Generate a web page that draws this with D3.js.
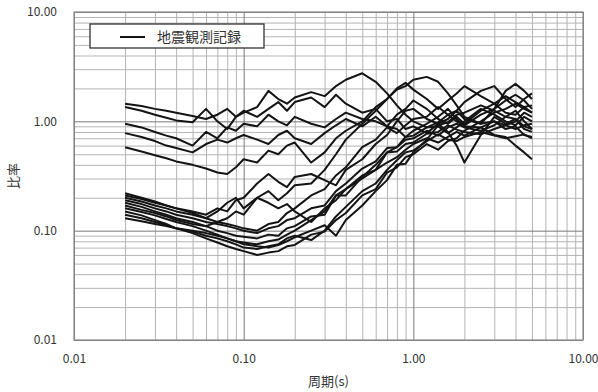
<!DOCTYPE html>
<html>
<head>
<meta charset="utf-8">
<script src="https://cdn.jsdelivr.net/npm/d3@7"></script>
<style>
  body { margin: 0; background: #fff; }
  svg { display: block; }
</style>
</head>
<body>
<div id="chart"></div>
<script>
// periods (s)
const periods = [0.02, 0.025, 0.03, 0.035, 0.04, 0.05, 0.06, 0.07, 0.08, 0.09,
  0.1, 0.12, 0.14, 0.16, 0.18, 0.2, 0.25, 0.3, 0.35, 0.4,
  0.5, 0.6, 0.7, 0.8, 0.9, 1.0, 1.2, 1.4, 1.6, 1.8,
  2.0, 2.5, 3.0, 3.5, 4.0, 4.5, 5.0];

// ratio records (one array per observation)
const rec01 = [1.45, 1.38, 1.3, 1.25, 1.2, 1.12, 1.05, 1.15, 1.3, 1.1, 1.2, 1.35, 1.9, 1.6, 1.45, 1.65, 1.85, 1.7, 2.1, 2.4, 2.75, 2.3, 1.8, 1.4, 1.15, 1.0, 0.88, 0.98, 1.15, 1.25, 1.05, 0.95, 1.0, 0.85, 0.9, 0.75, 0.72];
const rec02 = [1.35, 1.25, 1.15, 1.08, 1.02, 0.98, 1.3, 1.0, 0.85, 1.1, 1.25, 1.1, 1.3, 1.5, 1.25, 1.5, 1.65, 1.35, 1.75, 1.45, 1.2, 1.3, 1.0, 1.05, 0.85, 0.9, 0.78, 0.95, 0.8, 0.6, 0.42, 0.75, 1.1, 0.95, 1.05, 0.85, 0.8];
const rec03 = [0.95, 0.88, 0.8, 0.74, 0.7, 0.6, 0.8, 0.7, 0.88, 0.82, 0.95, 0.9, 1.15, 1.0, 0.92, 1.1, 0.95, 0.88, 1.05, 1.2, 1.05, 1.0, 0.9, 1.15, 1.3, 1.55, 1.3, 1.05, 0.95, 1.1, 0.95, 1.25, 1.45, 1.7, 1.5, 1.35, 1.2];
const rec04 = [0.78, 0.72, 0.66, 0.6, 0.57, 0.52, 0.62, 0.68, 0.64, 0.7, 0.75, 0.68, 0.62, 0.75, 0.82, 0.7, 0.62, 0.78, 0.92, 1.05, 0.9, 1.1, 0.9, 0.85, 0.72, 0.82, 0.95, 1.1, 1.3, 1.05, 0.9, 0.88, 0.75, 0.72, 0.6, 0.52, 0.45];
const rec05 = [0.58, 0.53, 0.49, 0.46, 0.43, 0.4, 0.37, 0.34, 0.33, 0.38, 0.45, 0.42, 0.54, 0.5, 0.6, 0.64, 0.42, 0.52, 0.7, 0.82, 1.0, 1.35, 1.6, 1.95, 2.1, 2.4, 2.55, 2.3, 1.8, 1.4, 1.1, 0.95, 1.3, 1.9, 2.2, 1.9, 1.6];
const rec06 = [0.22, 0.2, 0.185, 0.17, 0.16, 0.15, 0.14, 0.16, 0.15, 0.19, 0.2, 0.27, 0.33, 0.28, 0.25, 0.31, 0.33, 0.29, 0.26, 0.36, 0.45, 0.62, 0.75, 1.0, 1.25, 1.3, 1.05, 0.95, 1.05, 1.25, 1.5, 1.9, 2.1, 1.6, 1.35, 1.6, 1.8];
const rec07 = [0.21, 0.195, 0.18, 0.17, 0.16, 0.145, 0.13, 0.15, 0.18, 0.2, 0.16, 0.2, 0.23, 0.19, 0.22, 0.26, 0.27, 0.36, 0.5, 0.68, 0.95, 1.25, 1.6, 2.0, 2.25, 1.95, 1.6, 1.3, 1.55, 1.8, 2.1, 1.7, 1.45, 1.2, 1.15, 1.35, 1.4];
const rec08 = [0.2, 0.185, 0.17, 0.16, 0.15, 0.14, 0.13, 0.12, 0.115, 0.11, 0.105, 0.1, 0.115, 0.12, 0.145, 0.16, 0.21, 0.24, 0.32, 0.38, 0.58, 0.68, 0.88, 0.78, 0.92, 1.05, 1.1, 1.35, 1.15, 1.0, 0.92, 1.15, 1.3, 1.55, 1.75, 1.55, 1.3];
const rec09 = [0.19, 0.175, 0.16, 0.15, 0.14, 0.13, 0.12, 0.115, 0.11, 0.105, 0.1, 0.095, 0.105, 0.11, 0.125, 0.13, 0.16, 0.17, 0.23, 0.27, 0.37, 0.43, 0.57, 0.58, 0.72, 0.74, 0.88, 0.9, 0.78, 0.88, 1.0, 1.3, 1.15, 1.0, 0.92, 1.1, 1.0];
const rec10 = [0.18, 0.165, 0.15, 0.14, 0.13, 0.12, 0.11, 0.1, 0.095, 0.09, 0.088, 0.085, 0.092, 0.09, 0.105, 0.11, 0.135, 0.14, 0.21, 0.24, 0.32, 0.36, 0.52, 0.58, 0.68, 0.7, 0.82, 0.74, 0.88, 0.95, 0.88, 0.82, 0.92, 1.1, 1.25, 1.0, 0.85];
const rec11 = [0.17, 0.155, 0.145, 0.135, 0.125, 0.115, 0.11, 0.12, 0.13, 0.15, 0.14, 0.2, 0.18, 0.16, 0.175, 0.15, 0.12, 0.16, 0.19, 0.24, 0.3, 0.36, 0.42, 0.47, 0.55, 0.62, 0.7, 0.64, 0.72, 0.8, 0.74, 0.88, 1.0, 0.92, 0.85, 0.92, 0.95];
const rec12 = [0.16, 0.148, 0.138, 0.128, 0.12, 0.11, 0.1, 0.092, 0.085, 0.08, 0.078, 0.075, 0.08, 0.083, 0.092, 0.1, 0.125, 0.15, 0.21, 0.21, 0.31, 0.4, 0.52, 0.53, 0.62, 0.64, 0.77, 0.8, 0.92, 0.84, 0.8, 0.76, 0.85, 0.92, 1.0, 1.2, 1.1];
const rec13 = [0.15, 0.138, 0.125, 0.115, 0.105, 0.095, 0.085, 0.078, 0.072, 0.068, 0.065, 0.06, 0.063, 0.065, 0.072, 0.074, 0.092, 0.098, 0.125, 0.145, 0.21, 0.24, 0.34, 0.38, 0.47, 0.5, 0.62, 0.55, 0.66, 0.7, 0.82, 1.0, 1.2, 1.3, 1.45, 1.3, 1.2];
const rec14 = [0.14, 0.13, 0.12, 0.112, 0.105, 0.098, 0.09, 0.085, 0.08, 0.075, 0.07, 0.068, 0.072, 0.075, 0.085, 0.09, 0.082, 0.1, 0.135, 0.165, 0.23, 0.27, 0.36, 0.44, 0.52, 0.54, 0.66, 0.76, 0.68, 0.66, 0.72, 0.8, 0.74, 0.7, 0.73, 0.76, 0.7];
const rec15 = [0.13, 0.122, 0.115, 0.11, 0.105, 0.1, 0.095, 0.09, 0.085, 0.08, 0.075, 0.072, 0.07, 0.074, 0.08, 0.087, 0.1, 0.112, 0.09, 0.125, 0.17, 0.23, 0.29, 0.4, 0.41, 0.52, 0.68, 0.92, 0.98, 1.15, 1.2, 1.4, 1.25, 1.1, 1.05, 0.9, 0.85];

const records = [rec01, rec02, rec03, rec04, rec05, rec06, rec07, rec08,
  rec09, rec10, rec11, rec12, rec13, rec14, rec15];

const tickVals = [0.01, 0.1, 1, 10];
const tickLabels = ["0.01", "0.10", "1.00", "10.00"];
const legendLabel = "地震観測記録";
const xTitle = "周期(s)";
const yTitle = "比率";

const W = 598, H = 392;
const plot = {left: 74, right: 583, top: 12, bottom: 340};
const font = "'Noto Sans CJK JP', 'Liberation Sans', sans-serif";

const svg = d3.select("#chart").append("svg")
  .attr("width", W)
  .attr("height", H);

const x = d3.scaleLog().domain([0.01, 10]).range([plot.left, plot.right]);
const y = d3.scaleLog().domain([0.01, 10]).range([plot.bottom, plot.top]);
const plotW = plot.right - plot.left, plotH = plot.bottom - plot.top;

// grid lines (2..9 per decade)
const gx = svg.append("g")
  .attr("transform", "translate(0," + plot.bottom + ")")
  .call(d3.axisBottom(x).tickValues(x.ticks().filter(d => tickVals.indexOf(d) < 0)).tickSize(-plotH).tickFormat(""));
gx.select(".domain").remove();
gx.selectAll(".tick line").attr("stroke", "#b4b4b4").attr("stroke-width", 1);

const gy = svg.append("g")
  .attr("transform", "translate(" + plot.left + ",0)")
  .call(d3.axisLeft(y).tickValues(y.ticks().filter(d => tickVals.indexOf(d) < 0)).tickSize(-plotW).tickFormat(""));
gy.select(".domain").remove();
gy.selectAll(".tick line").attr("stroke", "#b4b4b4").attr("stroke-width", 1);

// decade lines, a bit darker, with labels
const gxm = svg.append("g")
  .attr("transform", "translate(0," + plot.bottom + ")")
  .call(d3.axisBottom(x).tickValues(tickVals).tickSize(-plotH).tickFormat((d, i) => tickLabels[i]));
gxm.select(".domain").remove();
gxm.selectAll(".tick line").attr("stroke", "#7a7a7a").attr("stroke-width", 1);
gxm.selectAll(".tick text")
  .attr("y", 14)
  .attr("dy", "0.71em")
  .attr("fill", "#333")
  .style("font-family", font)
  .style("font-size", "12px");

const gym = svg.append("g")
  .attr("transform", "translate(" + plot.left + ",0)")
  .call(d3.axisLeft(y).tickValues(tickVals).tickSize(-plotW).tickFormat((d, i) => tickLabels[i]));
gym.select(".domain").remove();
gym.selectAll(".tick line").attr("stroke", "#7a7a7a").attr("stroke-width", 1);
gym.selectAll(".tick text")
  .attr("x", -17)
  .attr("fill", "#333")
  .style("font-family", font)
  .style("font-size", "12px");

// frame
svg.append("rect")
  .attr("x", plot.left).attr("y", plot.top)
  .attr("width", plotW).attr("height", plotH)
  .attr("fill", "none")
  .attr("stroke", "#8a8a8a")
  .attr("stroke-width", 1.2);

// records
const line = d3.line()
  .x((d, i) => x(periods[i]))
  .y(d => y(d));

svg.append("g").selectAll("path")
  .data(records)
  .join("path")
  .attr("d", line)
  .attr("fill", "none")
  .attr("stroke", "#141414")
  .attr("stroke-width", 2)
  .attr("stroke-linejoin", "round");

// legend
const lg = svg.append("g");
lg.append("rect")
  .attr("x", 90).attr("y", 24)
  .attr("width", 174).attr("height", 24)
  .attr("fill", "#fff")
  .attr("stroke", "#333")
  .attr("stroke-width", 1.3);
lg.append("line")
  .attr("x1", 120).attr("x2", 145)
  .attr("y1", 37).attr("y2", 37)
  .attr("stroke", "#141414")
  .attr("stroke-width", 2);
lg.append("text")
  .attr("x", 157).attr("y", 37)
  .attr("dy", "0.35em")
  .attr("fill", "#333")
  .style("font-family", font)
  .style("font-size", "14px")
  .text(legendLabel);

// axis titles
svg.append("text")
  .attr("x", (plot.left + plot.right) / 2)
  .attr("y", 381)
  .attr("dy", "0.35em")
  .attr("text-anchor", "middle")
  .attr("fill", "#333")
  .style("font-family", font)
  .style("font-size", "13px")
  .text(xTitle);

svg.append("text")
  .attr("transform", "translate(13," + ((plot.top + plot.bottom) / 2) + ") rotate(-90)")
  .attr("dy", "0.35em")
  .attr("text-anchor", "middle")
  .attr("fill", "#333")
  .style("font-family", font)
  .style("font-size", "13px")
  .text(yTitle);
</script>
</body>
</html>
